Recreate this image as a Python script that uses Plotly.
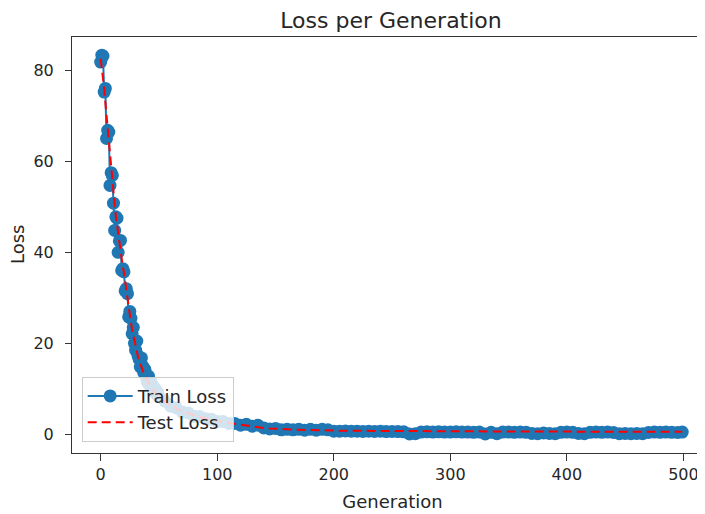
import plotly.graph_objects as go

generations = list(range(0, 51)) + list(range(55, 500, 5)) + [499]

train_loss = [
    81.8, 83.3, 83.1, 75.2, 76.0, 65.0, 66.8, 66.4, 54.7, 57.5,
    56.9, 50.8, 44.8, 47.8, 47.5, 40.0, 42.5, 42.6, 36.0, 36.4,
    35.7, 31.5, 32.0, 30.9, 25.8, 27.0, 25.5, 22.1, 23.5, 20.0,
    18.5, 20.5, 17.3, 16.5, 14.8, 16.8, 15.0, 13.5, 14.2, 12.6,
    11.5, 12.8, 10.8, 11.6, 10.0, 10.6, 9.4, 9.9, 8.8, 9.2,
    8.3,
    7.3, 6.2, 5.8, 4.9, 4.7, 4.0, 3.9, 3.4, 3.3, 2.8,
    2.8, 2.4, 2.4, 2.0, 2.2, 1.8, 2.0, 1.4, 1.2, 1.3,
    1.0, 1.1, 1.0, 1.1, 0.9, 1.1, 0.9, 1.1, 1.0, 0.7,
    0.7, 0.75, 0.7, 0.7, 0.65, 0.7, 0.65, 0.7, 0.6, 0.65,
    0.6, 0.55, 0.1, 0.15, 0.5, 0.55, 0.5, 0.55, 0.5, 0.5,
    0.55, 0.5, 0.5, 0.45, 0.5, 0.1, 0.45, 0.15, 0.5, 0.5,
    0.45, 0.5, 0.45, 0.2, 0.15, 0.3, 0.2, 0.15, 0.45, 0.5,
    0.45, 0.2, 0.15, 0.45, 0.5, 0.45, 0.5, 0.4, 0.15, 0.2,
    0.15, 0.2, 0.15, 0.4, 0.5, 0.45, 0.5, 0.45, 0.4, 0.5,
]

test_loss = [
    82.5, 80.5, 78.5, 76.0, 73.0, 70.0, 67.0, 64.0, 61.0, 58.0,
    55.5, 53.0, 50.5, 48.0, 46.0, 44.0, 42.0, 40.0, 38.0, 36.8,
    35.5, 33.5, 31.5, 29.5, 27.6, 26.0, 24.5, 23.0, 21.7, 20.4,
    19.2, 18.1, 17.1, 16.2, 15.4, 14.7, 14.0, 13.4, 12.8, 12.2,
    11.7, 11.2, 10.8, 10.4, 10.0, 9.7, 9.4, 9.1, 8.8, 8.5,
    8.3,
    7.2, 6.4, 5.7, 5.1, 4.6, 4.2, 3.8, 3.5, 3.2, 2.9,
    2.7, 2.5, 2.3, 2.1, 1.9, 1.7, 1.5, 1.4, 1.3, 1.2,
    1.15, 1.1, 1.05, 1.0, 0.95, 0.92, 0.9, 0.88, 0.85, 0.82,
    0.8, 0.79, 0.78, 0.77, 0.76, 0.75, 0.74, 0.73, 0.72, 0.71,
    0.7, 0.7, 0.69, 0.68, 0.68, 0.67, 0.67, 0.66, 0.66, 0.65,
    0.65, 0.65, 0.64, 0.64, 0.64, 0.63, 0.63, 0.63, 0.62, 0.62,
    0.62, 0.62, 0.61, 0.61, 0.61, 0.61, 0.61, 0.6, 0.6, 0.6,
    0.6, 0.6, 0.59, 0.59, 0.59, 0.59, 0.59, 0.58, 0.58, 0.58,
    0.58, 0.58, 0.57, 0.57, 0.57, 0.57, 0.57, 0.57, 0.56, 0.56,
]

x_ticks = [0, 100, 200, 300, 400, 500]
y_ticks = [0, 20, 40, 60, 80]

FONT = "DejaVu Sans"

fig = go.Figure()
fig.add_trace(go.Scatter(
    x=generations, y=train_loss, name="Train Loss",
    mode="lines+markers",
    line=dict(color="#1f77b4", width=2),
    marker=dict(color="#1f77b4", size=13),
))
fig.add_trace(go.Scatter(
    x=generations, y=test_loss, name="Test Loss",
    mode="lines",
    line=dict(color="red", width=2, dash="9px,5px"),
))

fig.update_layout(
    width=705, height=514,
    margin=dict(l=64, r=0, t=29, b=69),
    paper_bgcolor="white", plot_bgcolor="white",
    font=dict(family=FONT, size=16, color="#262626"),
    title=dict(text="Loss per Generation", x=383/705, xanchor="center",
               y=1 - 12.5/514, yanchor="middle", yref="container",
               font=dict(size=22, color="#262626")),
    legend=dict(x=0.0151, y=0.027, xanchor="left", yanchor="bottom",
                bgcolor="rgba(255,255,255,0.8)", bordercolor="#cccccc", borderwidth=1,
                font=dict(size=18, color="#262626"), itemwidth=45,
                tracegroupgap=0),
    showlegend=True,
    annotations=[dict(text="Loss", textangle=-90, xref="paper", yref="paper",
                      x=(9 - 64) / 641, y=0.5, xanchor="center", yanchor="middle",
                      showarrow=False, font=dict(size=18, color="#262626"))],
)
fig.update_xaxes(
    range=[-24.6, 525.4], tickvals=x_ticks, ticktext=[str(v) for v in x_ticks],
    showgrid=False, zeroline=False, showline=True, linecolor="#333", linewidth=1,
    mirror=True, ticks="outside", ticklen=7, tickcolor="#333", automargin=False,
    tickfont=dict(size=16), title=dict(text="Generation", font=dict(size=18), standoff=12),
)
fig.update_yaxes(
    range=[-4.1, 87.3], tickvals=y_ticks, ticktext=[str(v) for v in y_ticks],
    showgrid=False, zeroline=False, showline=True, linecolor="#333", linewidth=1,
    mirror=False, ticks="outside", ticklen=6, tickcolor="#333", automargin=False,
    ticklabelstandoff=8,
    tickfont=dict(size=16),
)

fig.write_html("out.html")
